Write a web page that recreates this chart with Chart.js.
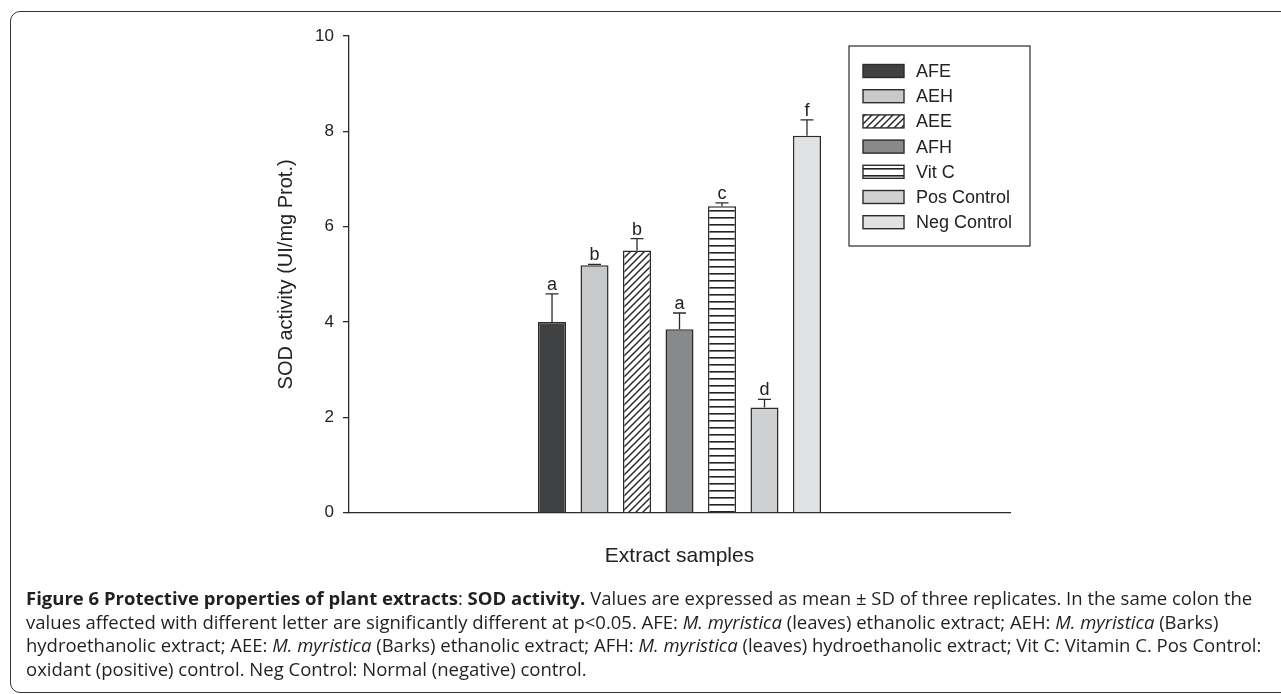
<!DOCTYPE html>
<html>
<head>
<meta charset="utf-8">
<script src="https://cdn.jsdelivr.net/npm/chart.js@4.4.1/dist/chart.umd.min.js"></script>
<style>
  html, body { margin: 0; padding: 0; background: #fff; overflow: hidden; width: 1281px; height: 694px; }
  .frame { position: absolute; left: 10px; top: 11px; width: 1320px; height: 680px; border: 1.5px solid #333; border-radius: 10px; }
  .wrap { position: absolute; left: 0; top: 0; width: 1281px; height: 590px; }
  .caption { position: absolute; left: 26px; top: 586px; font-family: "Open Sans", sans-serif; font-size: 18.5px; line-height: 23.5px; color: #231f20; white-space: nowrap; }
  .caption b { font-weight: 700; }
</style>
</head>
<body>
<div class="frame"></div>
<div class="wrap"><canvas id="myChart"></canvas></div>
<div class="caption">
  <b>Figure 6 Protective properties of plant extracts</b>: <b>SOD activity.</b> Values are expressed as mean ± SD of three replicates. In the same colon the<br>
  values affected with different letter are significantly different at p&lt;0.05. AFE: <i>M. myristica</i> (leaves) ethanolic extract; AEH: <i>M. myristica</i> (Barks)<br>
  hydroethanolic extract; AEE: <i>M. myristica</i> (Barks) ethanolic extract; AFH: <i>M. myristica</i> (leaves) hydroethanolic extract; Vit C: Vitamin C. Pos Control:<br>
  oxidant (positive) control. Neg Control: Normal (negative) control.
</div>
<script>
const categories = [""];
const seriesNames = ["AFE", "AEH", "AEE", "AFH", "Vit C", "Pos Control", "Neg Control"];
const means = [4.0, 5.19, 5.5, 3.85, 6.43, 2.21, 7.91];
const sds = [0.59, 0.02, 0.25, 0.34, 0.07, 0.17, 0.33];
const letters = ["a", "b", "b", "a", "c", "d", "f"];
const yTicks = [0, 2, 4, 6, 8, 10];

const FONT = '"Liberation Sans", Arial, sans-serif';
const INK = "#2b2b2b";

// hatch patterns for AEE and Vit C
function makeDiagonal() {
  const c = document.createElement("canvas");
  c.width = 7; c.height = 7;
  const g = c.getContext("2d");
  g.fillStyle = "#fff";
  g.fillRect(0, 0, 7, 7);
  g.strokeStyle = "#222";
  g.lineWidth = 1.4;
  g.beginPath();
  g.moveTo(-1, 8); g.lineTo(8, -1);
  g.moveTo(-4, 4); g.lineTo(4, -4);
  g.moveTo(3, 11); g.lineTo(11, 3);
  g.stroke();
  return g.createPattern(c, "repeat");
}
function makeHorizontal() {
  const c = document.createElement("canvas");
  c.width = 4; c.height = 7;
  const g = c.getContext("2d");
  g.fillStyle = "#fff";
  g.fillRect(0, 0, 4, 7);
  g.fillStyle = "#222";
  g.fillRect(0, 0, 4, 1.6);
  return g.createPattern(c, "repeat");
}

const fills = ["#404143", "#c8c9cb", makeDiagonal(), "#88898b", makeHorizontal(), "#cfd0d2", "#e1e2e4"];

const errorBarPlugin = {
  id: "errorBars",
  afterDatasetsDraw: (chart) => {
    const { ctx } = chart;
    const y = chart.scales.y;
    ctx.save();
    ctx.strokeStyle = INK;
    ctx.lineWidth = 1.3;
    ctx.fillStyle = "#222";
    ctx.font = "18px " + FONT;
    ctx.textAlign = "center";
    ctx.textBaseline = "alphabetic";
    chart.data.datasets.forEach((ds, i) => {
      const bar = chart.getDatasetMeta(i).data[0];
      const top = y.getPixelForValue(means[i] + sds[i]);
      ctx.beginPath();
      ctx.moveTo(bar.x, bar.y);
      ctx.lineTo(bar.x, top);
      ctx.moveTo(bar.x - 6.5, top);
      ctx.lineTo(bar.x + 6.5, top);
      ctx.stroke();
      ctx.fillText(letters[i], bar.x, top - 4);
    });
    ctx.restore();
  },
};

const boxLegendPlugin = {
  id: "boxLegend",
  afterDraw: (chart) => {
    const { ctx, chartArea } = chart;
    const left = chartArea.right - 161;
    const top = chartArea.top + 10;
    ctx.save();
    ctx.strokeStyle = INK;
    ctx.lineWidth = 1.2;
    ctx.strokeRect(left, top, 181, 200);
    ctx.font = "18px " + FONT;
    ctx.textBaseline = "middle";
    chart.data.datasets.forEach((ds, i) => {
      const cy = top + 25 + i * 25.2;
      ctx.fillStyle = ds.backgroundColor;
      ctx.fillRect(left + 14, cy - 6.5, 41, 13);
      ctx.strokeStyle = INK;
      ctx.lineWidth = 1.4;
      ctx.strokeRect(left + 14, cy - 6.5, 41, 13);
      ctx.fillStyle = "#222";
      ctx.fillText(ds.label, left + 67, cy + 1);
    });
    ctx.restore();
  },
};

const ctx = document.getElementById("myChart").getContext("2d");

const myChart = new Chart(ctx, {
  type: "bar",
  data: {
    labels: categories,
    datasets: seriesNames.map((name, i) => ({
      label: name,
      data: [means[i]],
      backgroundColor: fills[i],
      borderColor: INK,
      borderWidth: 1.5,
      borderSkipped: "bottom",
      categoryPercentage: 0.45,
      barPercentage: 0.66,
    })),
  },
  options: {
    responsive: true,
    maintainAspectRatio: false,
    animation: false,
    layout: { padding: { left: 274, right: 271, top: 36, bottom: 21 } },
    plugins: {
      legend: { display: false },
      tooltip: { enabled: false },
    },
    scales: {
      x: {
        grid: { display: false },
        border: { display: true, color: INK, width: 1.3 },
        ticks: { display: false },
        title: {
          display: true,
          text: "Extract samples",
          color: "#222",
          font: { family: FONT, size: 21 },
          padding: { top: 23, bottom: 0 },
        },
      },
      y: {
        min: 0,
        max: 10,
        afterBuildTicks: (scale) => {
          scale.ticks = yTicks.map((v) => ({ value: v }));
        },
        afterFit: (scale) => {
          scale.width = 75;
        },
        grid: { drawOnChartArea: false, drawTicks: true, tickLength: 6, color: INK, lineWidth: 1.3 },
        border: { display: true, color: INK, width: 1.3 },
        ticks: { color: "#222", padding: 9, font: { family: FONT, size: 17 } },
        title: {
          display: true,
          text: "SOD activity (UI/mg Prot.)",
          color: "#222",
          font: { family: FONT, size: 20 },
          padding: 0,
        },
      },
    },
  },
  plugins: [errorBarPlugin, boxLegendPlugin],
});
</script>
</body>
</html>
